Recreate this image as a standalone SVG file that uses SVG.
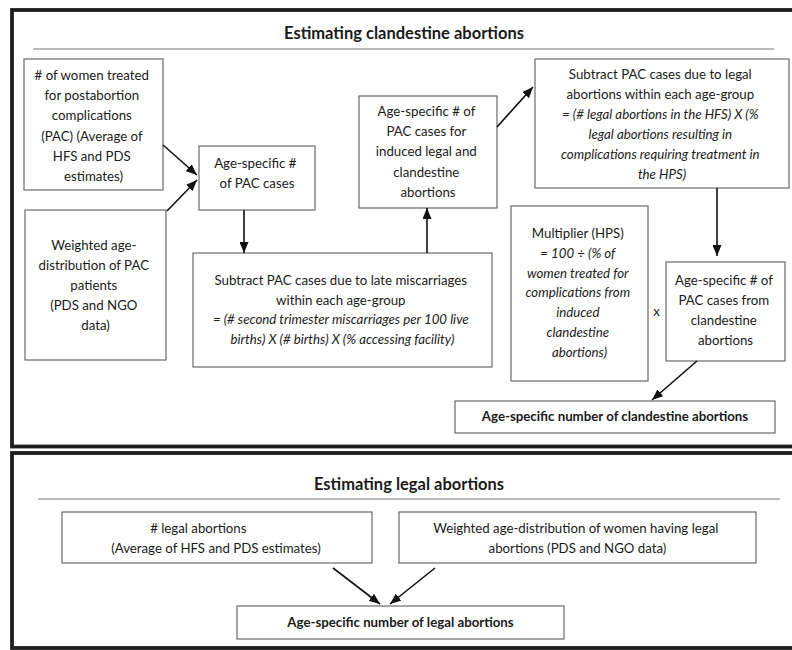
<svg xmlns="http://www.w3.org/2000/svg" width="792" height="650" viewBox="0 0 792 650">
<style>
.frame{fill:none;stroke:#1e1e1e;stroke-width:3.8}
.rule{stroke:#777;stroke-width:1.2}
.box{fill:#fff;stroke:#6a6a6a;stroke-width:1.2}
text{font-family:Lato,"Liberation Sans",sans-serif;font-size:13.25px;fill:#1a1a1a;text-anchor:middle}
.it{font-style:italic}
.b{font-weight:bold}
.title{font-weight:bold;font-size:16.5px}
.conn line{stroke:#111;stroke-width:1.6;marker-end:url(#ah)}
</style>
<defs>
<marker id="ah" markerUnits="userSpaceOnUse" markerWidth="11" markerHeight="9" refX="11" refY="4.5" orient="auto">
<path d="M0,0 L11,4.5 L0,9 z" fill="#111"/>
</marker>
</defs>
<rect width="792" height="650" fill="#fff"/>

<g id="frame-clandestine">
<rect class="frame" x="12" y="10" width="800" height="436.5"/>
<text class="title" x="404" y="39">Estimating clandestine abortions</text>
<line class="rule" x1="33" y1="49" x2="774" y2="49"/>
</g>

<g id="frame-legal">
<rect class="frame" x="12" y="453" width="800" height="195"/>
<text class="title" x="409" y="490">Estimating legal abortions</text>
<line class="rule" x1="38" y1="499" x2="780" y2="499"/>
</g>

<g id="nodeA">
<rect class="box" x="24" y="59" width="139" height="131"/>
<text>
<tspan x="93.5" y="80"># of women treated</tspan>
<tspan x="93.5" y="100">for postabortion</tspan>
<tspan x="93.5" y="120">complications</tspan>
<tspan x="93.5" y="141">(PAC) (Average of</tspan>
<tspan x="93.5" y="161">HFS and PDS</tspan>
<tspan x="93.5" y="181">estimates)</tspan>
</text>
</g>

<g id="nodeB">
<rect class="box" x="25" y="210" width="141" height="150"/>
<text>
<tspan x="95.5" y="250">Weighted age-</tspan>
<tspan x="95.5" y="270">distribution of PAC</tspan>
<tspan x="95.5" y="290">patients</tspan>
<tspan x="95.5" y="310">(PDS and NGO</tspan>
<tspan x="95.5" y="330">data)</tspan>
</text>
</g>

<g id="nodeC">
<rect class="box" x="199" y="146" width="116" height="64"/>
<text>
<tspan x="257" y="168">Age-specific #</tspan>
<tspan x="257" y="188">of PAC cases</tspan>
</text>
</g>

<g id="nodeD">
<rect class="box" x="193" y="253" width="299" height="114"/>
<text>
<tspan x="342.5" y="285">Subtract PAC cases due to late miscarriages</tspan>
<tspan x="342.5" y="305">within each age-group</tspan>
<tspan class="it" x="342.5" y="324">= (# second trimester miscarriages per 100 live</tspan>
<tspan class="it" x="342.5" y="344">births) X (# births) X (% accessing facility)</tspan>
</text>
</g>

<g id="nodeE">
<rect class="box" x="359" y="96" width="138" height="112"/>
<text>
<tspan x="428" y="116">Age-specific # of</tspan>
<tspan x="428" y="136">PAC cases for</tspan>
<tspan x="428" y="156">induced legal and</tspan>
<tspan x="428" y="177">clandestine</tspan>
<tspan x="428" y="197">abortions</tspan>
</text>
</g>

<g id="nodeF">
<rect class="box" x="535" y="59" width="254" height="129"/>
<text>
<tspan x="662" y="79">Subtract PAC cases due to legal</tspan>
<tspan x="662" y="99">abortions within each age-group</tspan>
<tspan class="it" x="662" y="119">= (# legal abortions in the HFS) X (%</tspan>
<tspan class="it" x="662" y="139">legal abortions resulting in</tspan>
<tspan class="it" x="662" y="159">complications requiring treatment in</tspan>
<tspan class="it" x="662" y="179">the HPS)</tspan>
</text>
</g>

<g id="nodeG">
<rect class="box" x="511" y="206" width="137" height="175"/>
<text>
<tspan x="579.5" y="238">Multiplier (HPS)</tspan>
<tspan class="it" x="579.5" y="258">= 100 ÷ (% of</tspan>
<tspan class="it" x="579.5" y="278">women treated for</tspan>
<tspan class="it" x="579.5" y="297">complications from</tspan>
<tspan class="it" x="579.5" y="317">induced</tspan>
<tspan class="it" x="579.5" y="337">clandestine</tspan>
<tspan class="it" x="579.5" y="357">abortions)</tspan>
</text>
</g>

<g id="times">
<text x="656.5" y="316">x</text>
</g>

<g id="nodeH">
<rect class="box" x="666" y="262" width="119" height="99"/>
<text>
<tspan x="725.5" y="285">Age-specific # of</tspan>
<tspan x="725.5" y="305">PAC cases from</tspan>
<tspan x="725.5" y="325">clandestine</tspan>
<tspan x="725.5" y="345">abortions</tspan>
</text>
</g>

<g id="nodeI">
<rect class="box" x="455" y="401" width="320" height="32"/>
<text class="b" x="615" y="421">Age-specific number of clandestine abortions</text>
</g>

<g id="nodeJ">
<rect class="box" x="62" y="512" width="310" height="51"/>
<text>
<tspan x="200" y="533"># legal abortions</tspan>
<tspan x="216" y="553">(Average of HFS and PDS estimates)</tspan>
</text>
</g>

<g id="nodeK">
<rect class="box" x="399" y="512" width="357" height="51"/>
<text>
<tspan x="577.5" y="533">Weighted age-distribution of women having legal</tspan>
<tspan x="577.5" y="553">abortions (PDS and NGO data)</tspan>
</text>
</g>

<g id="nodeL">
<rect class="box" x="237" y="606" width="327" height="33"/>
<text class="b" x="400.5" y="627">Age-specific number of legal abortions</text>
</g>

<g id="connectors" class="conn">
<line x1="163" y1="145" x2="197" y2="175"/>
<line x1="167" y1="211" x2="197" y2="180"/>
<line x1="244" y1="210" x2="244" y2="253"/>
<line x1="427" y1="253" x2="427" y2="208"/>
<line x1="497" y1="127" x2="533" y2="87"/>
<line x1="717" y1="188" x2="717" y2="256"/>
<line x1="697" y1="361" x2="652" y2="400"/>
<line x1="333" y1="568" x2="380" y2="604"/>
<line x1="435" y1="568" x2="390" y2="604"/>
</g>
</svg>
